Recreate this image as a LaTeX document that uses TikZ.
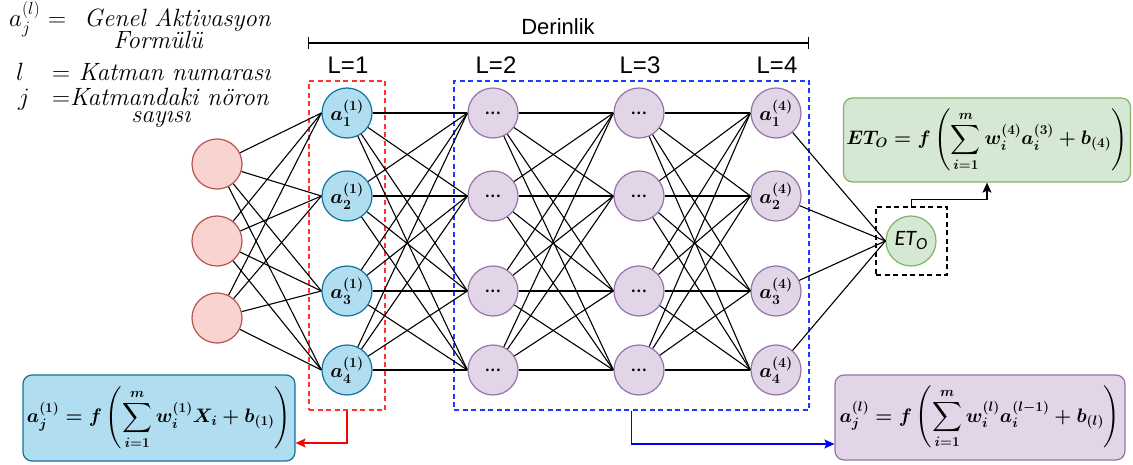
\RequirePackage{fix-cm}
\documentclass[tikz,border=0pt]{standalone}
\usepackage{amsmath}
\usepackage{fontspec}
\newfontfamily\lblfont{Liberation Sans}
\newfontfamily\etfont{Carlito}[ItalicFont={Carlito Italic}]
\usetikzlibrary{arrows.meta}
\definecolor{pinkF}{HTML}{F8D3CF}
\definecolor{pinkD}{HTML}{B85450}
\definecolor{blueF}{HTML}{B1DDF0}
\definecolor{blueD}{HTML}{10739E}
\definecolor{purpF}{HTML}{E1D5E7}
\definecolor{purpD}{HTML}{9673A6}
\definecolor{grnF}{HTML}{D5E8D4}
\definecolor{grnD}{HTML}{82B366}
\definecolor{dashred}{HTML}{FF3333}
\definecolor{dashblue}{HTML}{1A3CFF}
\tikzset{
  neuron/.style={circle, minimum size=50pt, inner sep=0pt, line width=1.2pt},
  inp/.style={neuron, fill=pinkF, draw=pinkD},
  lone/.style={neuron, fill=blueF, draw=blueD, font=\fontsize{20}{20}\selectfont\boldmath},
  hid/.style={neuron, fill=purpF, draw=purpD, font=\fontsize{20}{20}\selectfont\boldmath},
  dots/.style={neuron, fill=purpF, draw=purpD, font=\etfont\fontsize{22}{22}\selectfont},
  outn/.style={neuron, fill=grnF, draw=grnD, font=\etfont\fontsize{22}{22}\selectfont\itshape},
  wire/.style={line width=1.1pt, black},
  formbox/.style={rounded corners=9pt, line width=1.2pt, inner sep=0pt, font=\fontsize{19.5}{22}\selectfont\boldmath},
  dashbox/.style={dash pattern=on 5pt off 3.5pt, line width=1.4pt, inner sep=0pt},
  lyr/.style={font=\lblfont\fontsize{24}{24}\selectfont},
  tl/.style={anchor=base west, inner sep=0pt, font=\fontsize{25}{28}\selectfont\itshape},
  tip/.style={-{Stealth[length=10pt,width=9pt,inset=2pt]}, line width=1.3pt}
}
\begin{document}
\begin{tikzpicture}[x=1pt, y=-1pt]
\useasboundingbox (0,0) rectangle (1133,465);

% top-left legend
\node[tl] (t1a) at (9,27) {$a_j^{(l)}$};
\node[tl] (t1b) at (48,27) {$=$};
\node[tl] (t1c) at (84,27) {Genel Aktivasyon};
\node[tl, anchor=base] (t2) at (158,49) {Formülü};
\node[tl] (t3a) at (16,81) {$l$};
\node[tl] (t3b) at (52,81) {$=$ Katman numarası};
\node[tl] (t4a) at (18,106) {$j$};
\node[tl] (t4b) at (52,106) {$=$Katmandaki nöron};
\node[tl, anchor=base] (t5) at (161,123) {sayısı};

% depth bar
\node[font=\lblfont\fontsize{22}{22}\selectfont] (der) at (558,27) {Derinlik};
\coordinate (bl) at (308,43);
\coordinate (br) at (809,43);
\draw[line width=1.3pt, {Bar[width=12pt]}-{Bar[width=12pt]}] (bl) -- (br);

\node[lyr] (L1) at (348,65) {L=1};
\node[lyr] (L2) at (496,65) {L=2};
\node[lyr] (L3) at (640,65) {L=3};
\node[lyr] (L4) at (777,65) {L=4};

% dashed boxes
\node[dashbox, draw=dashred, minimum width=76pt, minimum height=329pt] (rbox) at (347,245.5) {};
\node[dashbox, draw=dashblue, minimum width=355pt, minimum height=329pt] (bbox) at (631.5,245.5) {};

% neurons
\node[inp] (i1) at (217,164) {};
\node[inp] (i2) at (217,241) {};
\node[inp] (i3) at (217,318) {};

\node[lone] (a1) at (347,113) {$a_1^{(1)}$};
\node[lone] (a2) at (347,196) {$a_2^{(1)}$};
\node[lone] (a3) at (347,291) {$a_3^{(1)}$};
\node[lone] (a4) at (347,370) {$a_4^{(1)}$};

\node[dots] (b1) at (493,113) {…};
\node[dots] (b2) at (493,196) {…};
\node[dots] (b3) at (493,291) {…};
\node[dots] (b4) at (493,370) {…};

\node[dots] (c1) at (639,113) {…};
\node[dots] (c2) at (639,196) {…};
\node[dots] (c3) at (639,291) {…};
\node[dots] (c4) at (639,370) {…};

\node[hid] (d1) at (776,113) {$a_1^{(4)}$};
\node[hid] (d2) at (776,196) {$a_2^{(4)}$};
\node[hid] (d3) at (776,291) {$a_3^{(4)}$};
\node[hid] (d4) at (776,370) {$a_4^{(4)}$};

\node[outn] (et) at (911,241) {ET\raisebox{-4pt}{\fontsize{17}{17}\selectfont O}};

% connections
\foreach \s in {i1,i2,i3} \foreach \t in {a1,a2,a3,a4} \draw[wire] (\s) -- (\t.west);
\foreach \s in {a1,a2,a3,a4} \foreach \t in {b1,b2,b3,b4} \draw[wire] (\s) -- (\t.west);
\foreach \s in {b1,b2,b3,b4} \foreach \t in {c1,c2,c3,c4} \draw[wire] (\s) -- (\t.west);
\foreach \s in {c1,c2,c3,c4} \foreach \t in {d1,d2,d3,d4} \draw[wire] (\s) -- (\t.west);
\foreach \s in {d1,d2,d3,d4} \draw[wire] (\s) -- (et.west);

% output dashed box
\node[dashbox, draw=black, minimum width=71pt, minimum height=68pt] (ebox) at (911.5,241) {};

% formula boxes
\node[formbox, fill=blueF, draw=blueD, minimum width=272pt, minimum height=86pt] (fb) at (159,418)
  {$\displaystyle a_j^{(1)} = f\left(\sum_{i=1}^{m} w_i^{(1)} X_i + b_{(1)}\right)$};
\node[formbox, fill=purpF, draw=purpD, minimum width=290pt, minimum height=85pt] (fp) at (980,417.5)
  {$\displaystyle a_j^{(l)} = f\left(\sum_{i=1}^{m} w_i^{(l)} a_i^{(l-1)} + b_{(l)}\right)$};
\node[formbox, fill=grnF, draw=grnD, minimum width=287pt, minimum height=84pt] (fg) at (987,140)
  {$\displaystyle ET_O = f\left(\sum_{i=1}^{m} w_i^{(4)} a_i^{(3)} + b_{(4)}\right)$};

% arrows
\draw[tip, red] (rbox.south) |- ([yshift=-25pt]fb.east);
\draw[tip, blue] (bbox.south) |- ([yshift=-26.5pt]fp.west);
\draw[tip, black] (ebox.north) -- ++(0,-7) -| (fg.south);
\end{tikzpicture}
\end{document}
